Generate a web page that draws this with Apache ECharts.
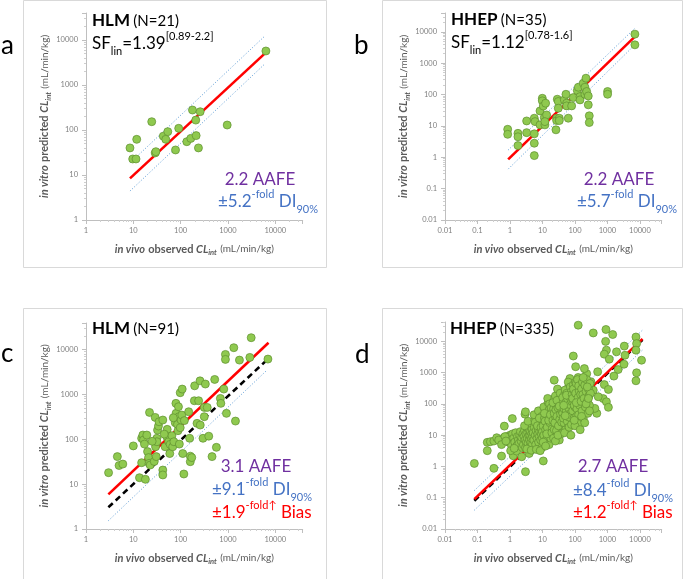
<!DOCTYPE html>
<html><head><meta charset="utf-8">
<script src="https://cdn.jsdelivr.net/npm/echarts@6/dist/echarts.min.js"></script>
<style>html,body{margin:0;padding:0;background:#fff}#c{width:685px;height:579px}</style>
</head><body><div id="c"></div>
<script>
// ---------- tick labels ----------
const tickLabels = ['0.01','0.1','1','10','100','1000','10000'];

// ---------- panel a: HLM (N=21) ----------
const aPoints = [[8.5,40],[9.7,22.7],[11.4,22.7],[11.8,62],[24.5,153],[29,31],[30,33],[43,73],[48.5,62],[53.5,92],[78,36],[91,109],[135,55],[164,65],[178,278],[209,166],[213,75],[238,40],[259,255],[964,129],[6340,5700]];
const aRed = [[8.5,8.4],[6140,5100]];
const aUpper = [[8.5,18.5],[6140,12500]];
const aLower = [[8.5,4.4],[6140,3000]];

// ---------- panel b: HHEP (N=35) ----------
const bPoints = [[0.85,7.8],[0.85,5.4],[1.76,5.8],[1.76,4.5],[1.76,2.36],[3.26,14.4],[3.26,6.1],[5.6,17.6],[5.9,13.7],[5.6,5.6],[5.6,2.8],[5.6,1.13],[8.4,30],[8.4,10.8],[9.9,76],[9.9,63],[10.6,43],[11.4,18.5],[11.9,10.8],[12.5,53],[13.4,22.4],[11.9,13.7],[26,7.5],[27.3,17.6],[27.3,14.8],[28.6,71],[30.7,60],[30.7,36.6],[33,17.6],[33,14.8],[47,67.6],[52.8,102],[55.4,53],[55.4,43.5],[62.3,17.6],[79,43.5],[89,80],[118,134],[127,171],[143,86],[143,67.6],[180,230],[203,171],[203,102],[218,332],[229,125],[257,90],[257,47],[276,21],[276,12.8],[1010,125],[1010,102],[7000,8430],[7000,3850]];
const bRed = [[0.88,0.86],[7000,7000]];
const bUpper = [[0.88,1.7],[7000,13000]];
const bLower = [[0.88,0.42],[7000,3850]];

// ---------- panel c: HLM (N=91) ----------
const cPoints = [[3.0,18],[4.6,41],[5.0,26],[6.0,28],[10,71],[13.5,13.9],[15,105],[15,30],[15.9,124],[16.4,96],[17.2,78],[18,12.8],[19.3,124],[20,53],[21,39],[21.6,29],[22.7,26.6],[22,396],[27.7,32],[29,307],[29.5,68],[30.5,41],[31.5,105],[31.5,88],[32.5,160],[34,197],[35,245],[42,268],[42,20.6],[42,16],[47,68],[51,114],[52,166],[56,88],[59,48],[60,77],[65.5,120],[68,68],[72,88],[77,233],[79.5,630],[80,377],[86,214],[88,155],[90,530],[92,318],[94,78],[98,1087],[98,181],[102,268],[108,1312],[111,48],[117,16.8],[106,346],[148,410],[155,105],[160,42],[160,31.6],[172,39],[195,721],[198,1550],[222,226],[240,721],[257,2000],[260,207],[297,105],[316,512],[316,318],[333,1700],[365,512],[393,117],[461,41],[525,2150],[570,66],[692,813],[708,630],[817,1312],[885,7760],[885,6010],[930,377],[1330,10960],[1442,254],[1750,5800],[2900,6660],[3100,18300],[7000,6110],[70,300],[120,260],[45,130],[25,90]];
const cRed = [[2.97,5.9],[7200,14100]];
const cUnity = [[2.97,3.05],[7200,6300]];
const cLower = [[2.97,1.53],[6700,3470]];

// ---------- panel d: HHEP (N=335) ----------
const dOutliers = [[0.08,1.25],[0.32,0.87],[0.2,3.2],[0.2,5.9],[0.25,6.2],[0.32,6.5],[0.39,8.3],[0.55,2.15],[0.65,8.3],[0.67,19.5],[1.18,34],[1.0,10],[1.26,2.2],[1.6,3.1],[2.3,2.05],[3.0,0.68],[2.9,47],[3.0,56],[3.9,2.6],[10.6,1.5],[23,575],[89,3400],[105,1550],[126,33000],[132,650],[70,650],[366,18600],[500,1070],[900,24000],[880,10000],[1450,16600],[930,5250],[800,3900],[1140,2700],[1900,4640],[2140,1260],[1580,775],[3470,3600],[3230,1860],[3300,7060],[7540,13800],[7900,8500],[7540,5240],[11200,2500],[7900,990],[7540,550],[800,415],[1070,290],[740,148],[930,117],[1070,78],[470,50],[410,72],[520,170],[366,275],[257,355],[230,930],[220,575],[310,510],[195,1350]];
const dCluster = [
[0.8,9],[0.9,6],[1.0,7.5],[1.1,5],[1.2,11],[1.3,8],[1.4,6],[1.5,12],[1.6,4.5],[1.7,9],[1.8,7],[1.9,5.5],[2.0,10],[2.1,13],[2.2,6.5],[2.3,8.5],[2.4,4],[2.5,11],[1.05,3.2],[1.35,3.8],
[0.45,7],[0.55,5],[0.7,9],[0.75,6.5],
[2.6,5],[2.7,9],[2.8,14],[2.9,7],[3.0,4],[3.1,11],[3.2,6],[3.3,18],[3.4,8],[3.5,12],[3.6,5.5],[3.7,22],[3.8,9.5],[3.9,15],[4.0,7],[4.1,10],[4.2,4.5],[4.3,13],[4.4,6],[4.5,20],[4.6,8],[4.7,11],[4.8,16],[4.9,5],[5.0,9],[3.3,3.6],[4.0,25],[4.5,3.3],[2.8,20],[3.6,28],
[5.2,12],[5.4,7],[5.6,18],[5.8,30],[6.0,10],[6.2,5],[6.4,14],[6.6,22],[6.8,8],[7.0,40],[7.2,11],[7.4,16],[7.6,6],[7.8,25],[8.0,9],[8.2,13],[8.4,50],[8.6,19],[8.8,7],[9.0,32],[9.2,11],[9.4,15],[9.6,4],[9.8,24],[10,8],[5.5,45],[6.5,3.5],[7.5,60],[8.5,3.2],[9.5,40],[6.0,26],[7.0,20],[8.0,35],[9.0,18],[10,13],
[10.5,20],[11,10],[11.5,35],[12,60],[12.5,15],[13,7],[13.5,25],[14,90],[14.5,12],[15,45],[15.5,20],[16,5],[16.5,30],[17,70],[17.5,14],[18,40],[18.5,9],[19,120],[19.5,22],[20,55],[11,80],[12,28],[13,48],[14,18],[15,110],[16,65],[17,25],[18,8],[19,35],[20,16],[10.5,6],[12.5,4.5],[14.5,150],[16.5,100],[18.5,75],[11.5,50],[13.5,11],[15.5,30],[17.5,45],[19.5,12],
[21,30],[22,70],[23,15],[24,150],[25,40],[26,9],[27,90],[28,22],[29,55],[30,200],[31,12],[32,35],[33,120],[34,60],[35,18],[36,80],[37,250],[38,28],[39,45],[40,100],[21,110],[22,8],[23,50],[24,25],[25,180],[26,65],[27,14],[28,40],[29,300],[30,75],[31,20],[32,140],[33,7],[34,32],[35,95],[36,48],[37,11],[38,160],[39,26],[40,60],[25,6.5],[30,10],[35,220],[28,130],[33,85],
[42,50],[44,120],[46,25],[48,200],[50,80],[52,15],[54,150],[56,40],[58,300],[60,65],[62,100],[64,20],[66,250],[68,55],[70,400],[72,30],[74,130],[76,90],[78,180],[80,45],[42,160],[44,35],[46,70],[48,12],[50,280],[52,110],[54,60],[56,220],[58,28],[60,140],[62,500],[64,75],[66,18],[68,170],[70,95],[72,350],[74,50],[76,240],[78,22],[80,120],[45,90],[55,190],[65,38],[75,10],[50,42],
[82,200],[85,60],[88,400],[90,120],[93,35],[96,250],[100,80],[104,500],[108,150],[112,40],[116,300],[120,100],[125,700],[130,180],[135,55],[140,350],[145,130],[150,25],[85,150],[90,300],[95,90],[100,20],[105,220],[110,450],[115,70],[120,600],[125,160],[130,45],[135,260],[140,90],[145,15],[150,200],[95,30],[110,110],[130,380],
[155,120],[160,300],[165,60],[170,500],[175,200],[180,35],[190,150],[200,400],[210,80],[220,250],[230,600],[240,120],[250,50],[260,300],[270,180],[280,90],[290,450],[300,220],[160,40],[180,700],[200,25],[220,100],[240,350],[260,150],[280,60]
];
const dRed = [[0.08,0.09],[12000,12000]];
const dUnity = [[0.08,0.08],[12000,11200]];
const dUpper = [[0.08,0.17],[12000,23000]];
const dLower = [[0.08,0.04],[12000,5300]];

// ---------- layout ----------
const FONT = 'Lato, "Open Sans", sans-serif';
const grids = [
  {left:86, top:13, width:216.7, height:207},
  {left:445, top:13, width:216.7, height:207},
  {left:86, top:323, width:216.7, height:206},
  {left:445, top:322, width:216.7, height:207}
];
const ranges = [
  {x:[1,Math.pow(10,4.58)], y:[1,Math.pow(10,4.6)]},
  {x:[0.01,Math.pow(10,4.67)], y:[0.01,Math.pow(10,4.6)]},
  {x:[1,Math.pow(10,4.58)], y:[1,Math.pow(10,4.59)]},
  {x:[0.01,Math.pow(10,4.67)], y:[0.01,Math.pow(10,4.62)]}
];

function fmt(v){
  const e = Math.log10(v), r = Math.round(e);
  if (Math.abs(e - r) > 1e-6) return '';
  return tickLabels[r + 2] || '';
}
const nameRich = {
  i:{fontFamily:FONT,fontSize:11,fontWeight:'bold',fontStyle:'italic',color:'#595959',lineHeight:16},
  b:{fontFamily:FONT,fontSize:11,fontWeight:'bold',color:'#595959',lineHeight:16},
  s:{fontFamily:FONT,fontSize:7.5,fontWeight:'bold',fontStyle:'italic',color:'#595959',lineHeight:8,verticalAlign:'bottom'},
  n:{fontFamily:FONT,fontSize:10,color:'#595959',lineHeight:16}
};
function axisCommon(i, which){
  const r = ranges[i][which];
  return {
    type:'log', logBase:10, gridIndex:i, min:r[0], max:r[1], interval:1,
    axisLine:{show:true, onZero:false, lineStyle:{color:'#bfbfbf', width:1}},
    axisTick:{show:true, length:4, lineStyle:{color:'#bfbfbf'}},
    minorTick:{show:true, splitNumber:9, length:2, lineStyle:{color:'#cfcfcf'}},
    splitLine:{show:false},
    axisLabel:{formatter:fmt, fontFamily:FONT, fontSize:7.5, color:'#7f7f7f', margin: which==='x'?7:8},
    nameLocation:'middle',
    nameTextStyle:{rich:nameRich}
  };
}
const xAxes = [0,1,2,3].map(i => Object.assign(axisCommon(i,'x'), {
  name:'{i|in vivo} {b|observed }{i|CL}{s|int} {n|(mL/min/kg)}', nameGap:21
}));
const yAxes = [0,1,2,3].map(i => Object.assign(axisCommon(i,'y'), {
  name:'{i|in vitro} {b|predicted }{i|CL}{s|int} {n|(mL/min/kg)}', nameGap: (i%2===0)?30:30, nameRotate:90
}));

function lineSeries(i, data, color, width, type){
  return {type:'line', xAxisIndex:i, yAxisIndex:i, data:data, symbol:'none', silent:true, z:2,
    lineStyle:{color:color, width:width, type:type, cap:'butt'}};
}
function scatterSeries(i, data){
  return {type:'scatter', xAxisIndex:i, yAxisIndex:i, data:data, symbolSize:8, z:3, silent:true,
    itemStyle:{color:'#8fc94f', borderColor:'#5f8f2f', borderWidth:0.7, opacity:1}};
}
const BLUE = '#5b9bd5';
const series = [
  lineSeries(0,aUpper,BLUE,1,[1,2]), lineSeries(0,aLower,BLUE,1,[1,2]), lineSeries(0,aRed,'#ff0000',2.6,'solid'),
  scatterSeries(0,aPoints),
  lineSeries(1,bUpper,BLUE,1,[1,2]), lineSeries(1,bLower,BLUE,1,[1,2]), lineSeries(1,bRed,'#ff0000',2.6,'solid'),
  scatterSeries(1,bPoints),
  lineSeries(2,cLower,BLUE,1,[1,2]), lineSeries(2,cUnity,'#000000',2.6,[6,4]), lineSeries(2,cRed,'#ff0000',2.6,'solid'),
  scatterSeries(2,cPoints),
  lineSeries(3,dUpper,BLUE,1,[1,2]), lineSeries(3,dLower,BLUE,1,[1,2]), lineSeries(3,dUnity,'#000000',2.6,[6,4]), lineSeries(3,dRed,'#ff0000',2.6,'solid'),
  scatterSeries(3,dOutliers.concat(dCluster))
];

// ---------- text overlays ----------
function richSet(color){
  return {
    m:{fontFamily:FONT,fontSize:17,fill:color,lineHeight:26},
    b:{fontFamily:FONT,fontSize:17,fontWeight:'bold',fill:color,lineHeight:26},
    n:{fontFamily:FONT,fontSize:15,fill:color,lineHeight:26},
    s:{fontFamily:FONT,fontSize:11,fill:color,lineHeight:11,verticalAlign:'bottom'},
    p:{fontFamily:FONT,fontSize:11,fill:color,lineHeight:11,verticalAlign:'top'}
  };
}
function txt(x, y, text, color, align){
  return {type:'text', x:x, y:y, silent:true, z:10,
    style:{text:text, rich:richSet(color), align:align||'left', verticalAlign:'middle'}};
}
function box(x,y,w,h){
  return {type:'rect', shape:{x:x,y:y,width:w,height:h}, silent:true, z:0,
    style:{fill:'none', stroke:'#d9d9d9', lineWidth:1}};
}
function letter(x,y,t){
  return {type:'text', x:x, y:y, silent:true, style:{text:t, fontFamily:FONT, fontSize:26, fill:'#000', align:'left', verticalAlign:'alphabetic'}};
}
const PURPLE = '#7030a0', DIBLUE = '#4472c4', RED = '#ff0000';
const graphic = [
  box(23.5,0.5,303,267), box(382.5,0.5,300,267), box(23.5,308.5,303,280), box(382.5,308.5,300,280),
  letter(1,33,'a'), letter(354,33,'b'), letter(1,341,'c'), letter(355,342,'d'),
  txt(92,21,'{b|HLM} {n|(N=21)}','#000'),
  txt(92,44,'{m|SF}{s|lin}{m|=1.39}{p|[0.89-2.2]}','#000'),
  txt(260,180,'{m|2.2 AAFE}',PURPLE,'center'),
  txt(218,202,'{m|±5.2}{p|-fold}{m| DI}{s|90%}',DIBLUE),
  txt(451,20,'{b|HHEP} {n|(N=35)}','#000'),
  txt(451,43,'{m|SF}{s|lin}{m|=1.12}{p|[0.78-1.6]}','#000'),
  txt(619,180,'{m|2.2 AAFE}',PURPLE,'center'),
  txt(577,202,'{m|±5.7}{p|-fold}{m| DI}{s|90%}',DIBLUE),
  txt(92,329,'{b|HLM} {n|(N=91)}','#000'),
  txt(256,467,'{m|3.1 AAFE}',PURPLE,'center'),
  txt(212,490,'{m|±9.1}{p|-fold}{m| DI}{s|90%}',DIBLUE),
  txt(212,513,'{m|±1.9}{p|-fold↑}{m| Bias}',RED),
  txt(450,329,'{b|HHEP} {n|(N=335)}','#000'),
  txt(613,467,'{m|2.7 AAFE}',PURPLE,'center'),
  txt(573,491,'{m|±8.4}{p|-fold}{m| DI}{s|90%}',DIBLUE),
  txt(573,513,'{m|±1.2}{p|-fold↑}{m| Bias}',RED)
];

const chart = echarts.init(document.getElementById('c'), null, {renderer:'canvas'});
chart.setOption({
  animation:false,
  backgroundColor:'#ffffff',
  grid: grids,
  xAxis: xAxes,
  yAxis: yAxes,
  series: series,
  graphic: graphic
});
</script>
</body></html>
